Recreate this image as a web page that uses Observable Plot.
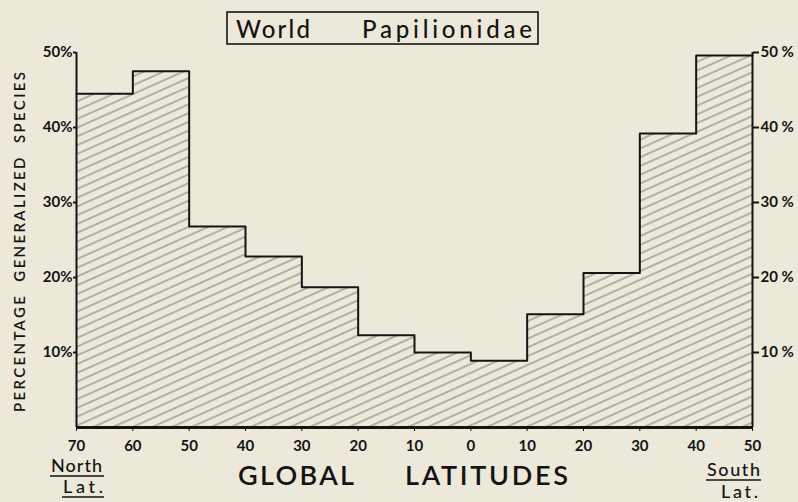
<!DOCTYPE html>
<html>
<head>
<meta charset="utf-8">
<script src="https://cdn.jsdelivr.net/npm/d3@7"></script>
<script src="https://cdn.jsdelivr.net/npm/@observablehq/plot@0.6"></script>
<style>
  html, body { margin: 0; padding: 0; background: #ece8da; }
  #chart { width: 798px; height: 502px; }
</style>
</head>
<body>
<div id="chart"></div>
<script>
// Latitude bins (start of each 10° band; North positive, South negative)
const binStart = [70, 60, 50, 40, 30, 20, 10, 0, -10, -20, -30, -40];
const binEnd   = [60, 50, 40, 30, 20, 10, 0, -10, -20, -30, -40, -50];
// Percentage of generalized species per band
const pctGeneralized = [44.5, 47.5, 26.8, 22.8, 18.7, 12.3, 10.0, 8.9, 15.1, 20.6, 39.2, 49.6];
// Axis ticks
const xTicks = [70, 60, 50, 40, 30, 20, 10, 0, -10, -20, -30, -40, -50];
const xTickLabels = ["70", "60", "50", "40", "30", "20", "10", "0", "10", "20", "30", "40", "50"];
const yTicks = [10, 20, 30, 40, 50];
const yTickLabelsLeft = ["10%", "20%", "30%", "40%", "50%"];
const yTickLabelsRight = ["10 %", "20 %", "30 %", "40 %", "50 %"];

// step table built from the arrays
const steps = binStart.map((s, i) => ({lat: s, pct: pctGeneralized[i]}));
steps.push({lat: binEnd[binEnd.length - 1], pct: pctGeneralized[pctGeneralized.length - 1]});

const FONT = "Lato, 'Open Sans', sans-serif";
const INK = "#141414";

const chart = Plot.plot({
  width: 798,
  height: 502,
  marginLeft: 76,
  marginRight: 46,
  marginTop: 52,
  marginBottom: 75,
  style: {background: "transparent", fontFamily: FONT, color: INK},
  x: {domain: [70, -50]},
  y: {domain: [0, 50]},
  marks: [
    Plot.areaY(steps, {x: "lat", y: "pct", curve: "step-after", fill: "url(#hatch)"}),
    Plot.lineY(steps, {x: "lat", y: "pct", curve: "step-after", stroke: INK, strokeWidth: 2}),
    Plot.ruleX([xTicks[0], xTicks[xTicks.length - 1]], {y1: 0, y2: yTicks[yTicks.length - 1], stroke: INK, strokeWidth: 2}),
    Plot.ruleY([0], {stroke: INK, strokeWidth: 3}),
    Plot.axisX({
      ticks: xTicks,
      tickFormat: d => xTickLabels[xTicks.indexOf(d)],
      tickSize: 4, tickPadding: 9, label: null,
      fontSize: 15, fontWeight: "bold", stroke: INK
    }),
    Plot.axisY({
      anchor: "left", ticks: yTicks,
      tickFormat: d => yTickLabelsLeft[yTicks.indexOf(d)],
      tickSize: 3, tickPadding: 1, label: null,
      fontSize: 15, fontWeight: "bold", strokeWidth: 2, stroke: INK
    }),
    Plot.axisY({
      anchor: "right", ticks: yTicks,
      tickFormat: d => yTickLabelsRight[yTicks.indexOf(d)],
      tickSize: 6, tickPadding: 2, label: null,
      fontSize: 15, fontWeight: "bold", strokeWidth: 2, stroke: INK
    })
  ]
});

document.getElementById("chart").appendChild(chart);

const svg = d3.select(chart);

// hatch pattern
const defs = svg.insert("defs", ":first-child");
defs.append("pattern")
  .attr("id", "hatch")
  .attr("patternUnits", "userSpaceOnUse")
  .attr("width", 10).attr("height", 8)
  .attr("patternTransform", "rotate(-24)")
  .append("line")
  .attr("x1", 0).attr("y1", 4).attr("x2", 10).attr("y2", 4)
  .attr("stroke", "#505050").attr("stroke-width", 0.75);

const ann = svg.append("g").attr("font-family", FONT).attr("fill", INK).attr("text-anchor", "start");

// Title with box
ann.append("rect")
  .attr("x", 227).attr("y", 12).attr("width", 311).attr("height", 32)
  .attr("fill", "none").attr("stroke", INK).attr("stroke-width", 1.6);
ann.append("text").text("World")
  .attr("x", 236).attr("y", 38).attr("font-size", 24).attr("font-weight", 500)
  .attr("textLength", 74).attr("lengthAdjust", "spacing");
ann.append("text").text("Papilionidae")
  .attr("x", 362).attr("y", 38).attr("font-size", 24).attr("font-weight", 500)
  .attr("textLength", 170).attr("lengthAdjust", "spacing");

// Y axis title
ann.append("text").text("PERCENTAGE\u00a0\u00a0GENERALIZED\u00a0\u00a0SPECIES")
  .attr("transform", "translate(25,242) rotate(-90)")
  .attr("text-anchor", "middle").attr("font-size", 15).attr("font-weight", 600)
  .attr("textLength", 340).attr("lengthAdjust", "spacing");

// X axis title
ann.append("text").text("GLOBAL")
  .attr("x", 238).attr("y", 485).attr("font-size", 27).attr("font-weight", 600)
  .attr("textLength", 116).attr("lengthAdjust", "spacing");
ann.append("text").text("LATITUDES")
  .attr("x", 405).attr("y", 485).attr("font-size", 27).attr("font-weight", 600)
  .attr("textLength", 163).attr("lengthAdjust", "spacing");

// North / South Lat.
ann.append("text").text("North")
  .attr("x", 51).attr("y", 472).attr("font-size", 18).attr("font-weight", 500)
  .attr("textLength", 51).attr("lengthAdjust", "spacing");
ann.append("line").attr("x1", 50).attr("x2", 104).attr("y1", 476).attr("y2", 476)
  .attr("stroke", INK).attr("stroke-width", 1.6);
ann.append("text").text("Lat.")
  .attr("x", 63).attr("y", 493).attr("font-size", 18).attr("font-weight", 500)
  .attr("textLength", 40).attr("lengthAdjust", "spacing");
ann.append("line").attr("x1", 62).attr("x2", 104).attr("y1", 497).attr("y2", 497)
  .attr("stroke", INK).attr("stroke-width", 1.6);

ann.append("text").text("South")
  .attr("x", 707).attr("y", 476).attr("font-size", 18).attr("font-weight", 500)
  .attr("textLength", 53).attr("lengthAdjust", "spacing");
ann.append("line").attr("x1", 706).attr("x2", 761).attr("y1", 480).attr("y2", 480)
  .attr("stroke", INK).attr("stroke-width", 1.6);
ann.append("text").text("Lat.")
  .attr("x", 721).attr("y", 498).attr("font-size", 18).attr("font-weight", 500)
  .attr("textLength", 37).attr("lengthAdjust", "spacing");
</script>
</body>
</html>
